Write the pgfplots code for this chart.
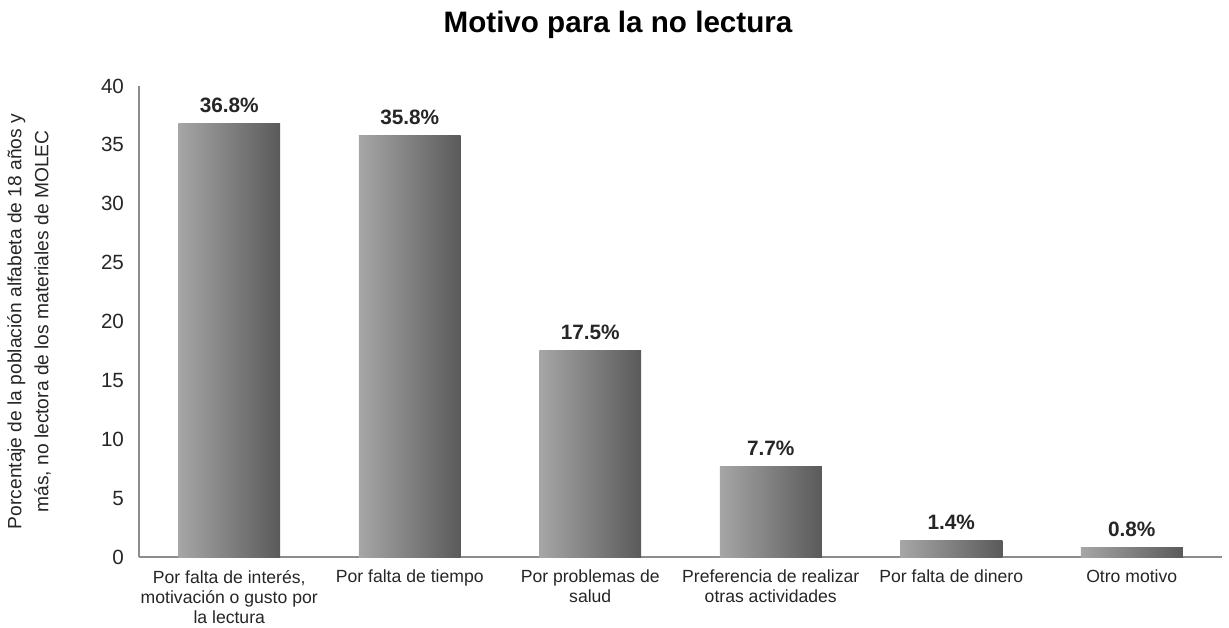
\documentclass[border=0pt]{standalone}
\usepackage{pgfplots}
\pgfplotsset{compat=1.18}
\usepackage{fontspec}
\setmainfont{Liberation Sans}
\definecolor{axgray}{HTML}{8C8C8C}
\definecolor{barlight}{HTML}{A6A6A6}
\definecolor{bardark}{HTML}{5A5A5A}
\begin{document}
\begin{tikzpicture}
\begin{axis}[
  at={(0pt,0pt)}, anchor=south west,
  scale only axis,
  width=541.5pt, height=235.5pt,
  xmin=-0.5, xmax=5.5, ymin=0, ymax=40,
  ytick={0,5,...,40},
  xtick={0,1,2,3,4,5},
  xticklabels={{Por falta de interés,\\motivación o gusto por\\la lectura},
               {Por falta de tiempo},
               {Por problemas de\\salud},
               {Preferencia de realizar\\otras actividades},
               {Por falta de dinero},
               {Otro motivo}},
  xticklabel style={align=center, font=\fontsize{8.8}{10}\selectfont, text=black!85, anchor=north, yshift=-3pt},
  yticklabel style={font=\fontsize{10.3}{11}\selectfont, text=black!85, xshift=-4pt},
  /pgf/number format/assume math mode=true,
  major tick length=0pt,
  axis x line*=bottom, axis y line*=left,
  axis line style={axgray, line width=0.6pt, -},
  ylabel={Porcentaje de la población alfabeta  de 18 años y\\más, no lectora de los materiales de MOLEC},
  ylabel style={align=center, font=\fontsize{9.6}{13.5}\selectfont, text=black!85, at={(axis description cs:-0.1016,0.5)}, anchor=center, rotate=0},
  ybar, bar width=0.565, bar shift=0pt,
  nodes near coords={\pgfmathprintnumber[fixed,precision=1,fixed zerofill]{\pgfplotspointmeta}\%},
  every node near coord/.append style={font=\bfseries\fontsize{10.4}{12}\selectfont, text=black!85, yshift=2pt},
  clip=false,
]
\addplot[draw=none, left color=barlight, right color=bardark] coordinates {(0,36.8)};
\addplot[draw=none, left color=barlight, right color=bardark] coordinates {(1,35.8)};
\addplot[draw=none, left color=barlight, right color=bardark] coordinates {(2,17.5)};
\addplot[draw=none, left color=barlight, right color=bardark] coordinates {(3,7.7)};
\addplot[draw=none, left color=barlight, right color=bardark] coordinates {(4,1.4)};
\addplot[draw=none, left color=barlight, right color=bardark] coordinates {(5,0.8)};
\end{axis}
\node[font=\bfseries\fontsize{14.8}{16}\selectfont] at (239.5pt,266pt) {Motivo para la no lectura};
\pgfresetboundingbox
\path[use as bounding box] (-69.5pt,-35pt) rectangle (545pt,278.5pt);
\end{tikzpicture}
\end{document}
